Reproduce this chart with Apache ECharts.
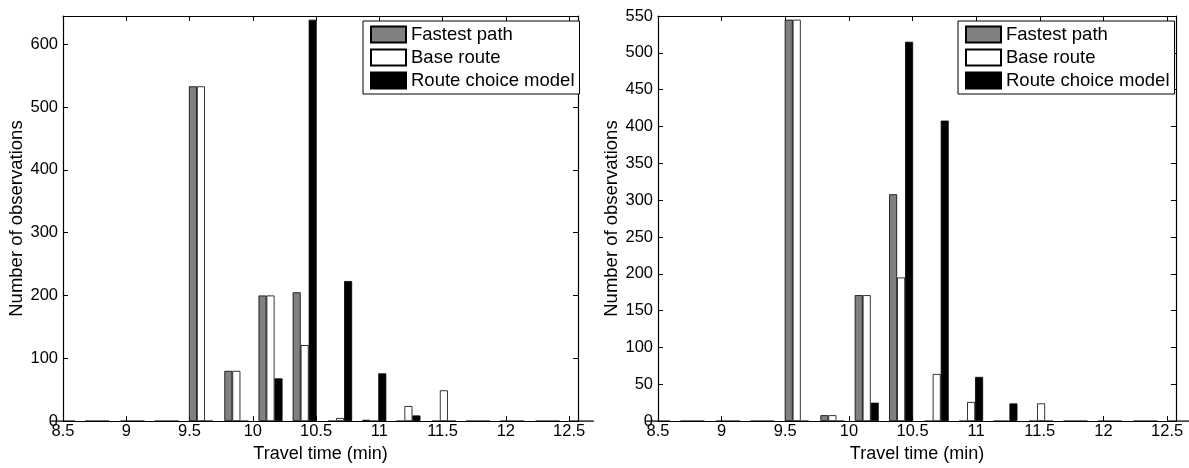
<!DOCTYPE html>
<html><head><meta charset="utf-8">
<script src="https://cdn.jsdelivr.net/npm/echarts@6/dist/echarts.min.js"></script>
<style>html,body{margin:0;padding:0;background:#fff}#c{width:1189px;height:468px}</style>
</head><body><div id="c"></div>
<script>
// Histogram bin centres (min)
const binCenters = [8.50, 8.77, 9.05, 9.32, 9.59, 9.87, 10.14, 10.41, 10.69, 10.96, 11.23, 11.51, 11.78, 12.05, 12.33, 12.60];
const seriesNames = ['Fastest path', 'Base route', 'Route choice model'];
// Left panel
const leftFastest = [0, 0, 0, 0, 533, 80, 200, 205, 0, 2, 0, 0, 0, 0, 0, 0];
const leftBase    = [0, 0, 0, 0, 533, 80, 200, 121, 5, 0, 24, 49, 0, 0, 0, 0];
const leftModel   = [0, 0, 0, 0, 0, 0, 68, 639, 223, 76, 9, 0, 0, 0, 0, 0];
// Right panel
const rightFastest = [0, 0, 0, 0, 545, 8, 171, 308, 0, 0, 0, 0, 0, 0, 0, 0];
const rightBase    = [0, 0, 0, 0, 545, 8, 171, 195, 64, 26, 0, 24, 0, 0, 0, 0];
const rightModel   = [0, 0, 0, 0, 0, 0, 25, 515, 408, 60, 24, 0, 0, 0, 0, 0];
// Tick labels
const xTickLabels = [8.5, 9, 9.5, 10, 10.5, 11, 11.5, 12, 12.5];
const leftYTicks = [0, 100, 200, 300, 400, 500, 600];
const rightYTicks = [0, 50, 100, 150, 200, 250, 300, 350, 400, 450, 500, 550];

const FONT = '"Liberation Sans", Arial, Helvetica, sans-serif';
const fills = ['#808080', '#ffffff', '#000000'];

const chart = echarts.init(document.getElementById('c'), null, {renderer: 'canvas'});

function fmtIn(list) {
  return function (v) {
    for (const t of list) { if (Math.abs(t - v) < 1e-6) return String(t); }
    return '';
  };
}

function xAxes(grid) {
  const common = {
    type: 'value', gridIndex: grid, min: 8.5, max: 12.57, interval: 0.5,
    splitLine: {show: false},
    axisLine: {show: true, onZero: false, lineStyle: {color: '#000', width: 1.2}},
    axisTick: {show: true, inside: true, length: 5, lineStyle: {color: '#000'}}
  };
  return [
    Object.assign({}, common, {
      position: 'bottom',
      name: 'Travel time (min)', nameLocation: 'middle', nameGap: 21,
      nameTextStyle: {fontFamily: FONT, fontSize: 18, color: '#000'},
      axisLabel: {show: true, margin: 2, fontFamily: FONT, fontSize: 16.5, color: '#000',
        formatter: fmtIn(xTickLabels), showMaxLabel: false, hideOverlap: false}
    }),
    Object.assign({}, common, {position: 'top', axisLabel: {show: false}})
  ];
}

function yAxes(grid, max, interval, ticks) {
  const common = {
    type: 'value', gridIndex: grid, min: 0, max: max, interval: interval,
    splitLine: {show: false},
    axisLine: {show: true, onZero: false, lineStyle: {color: '#000', width: 1.2}},
    axisTick: {show: true, inside: true, length: 5, lineStyle: {color: '#000'}}
  };
  return [
    Object.assign({}, common, {
      position: 'left',
      name: 'Number of observations', nameLocation: 'middle', nameGap: 36,
      nameTextStyle: {fontFamily: FONT, fontSize: 18.5, color: '#000'},
      axisLabel: {show: true, margin: 5, fontFamily: FONT, fontSize: 16.5, color: '#000',
        formatter: fmtIn(ticks)}
    }),
    Object.assign({}, common, {position: 'right', axisLabel: {show: false}})
  ];
}

function pairs(vals) { return binCenters.map((x, i) => [x, vals[i]]); }

function barSeries(xi, yi, arrays) {
  return arrays.map((vals, k) => ({
    type: 'bar', name: seriesNames[k], xAxisIndex: xi, yAxisIndex: yi,
    data: pairs(vals), barWidth: 8, barGap: '0%',
    itemStyle: {color: fills[k], borderColor: '#000', borderWidth: 0.8},
    emphasis: {disabled: true}
  }));
}

function legendAt(left) {
  return {
    left: left, top: 21, orient: 'vertical',
    data: seriesNames,
    itemWidth: 35, itemHeight: 16, itemGap: 4, itemTextGap: 3,
    borderColor: '#000', borderWidth: 1, backgroundColor: '#fff',
    padding: [4, 5, 4, 7], borderRadius: 0,
    textStyle: {fontFamily: FONT, fontSize: 18.5, color: '#000'},
    selectedMode: false,
    icon: 'rect'
  };
}

const option = {
  animation: false,
  backgroundColor: '#fff',
  grid: [
    {left: 63, top: 16, width: 515, height: 410},
    {left: 658, top: 16, width: 518, height: 410}
  ],
  xAxis: xAxes(0).concat(xAxes(1)),
  yAxis: yAxes(0, 645, 100, leftYTicks).concat(yAxes(1, 550, 50, rightYTicks)),
  legend: [legendAt(363), legendAt(958)],
  series: barSeries(0, 0, [leftFastest, leftBase, leftModel])
    .concat(barSeries(2, 2, [rightFastest, rightBase, rightModel]))
};
chart.setOption(option);
</script>
</body></html>
